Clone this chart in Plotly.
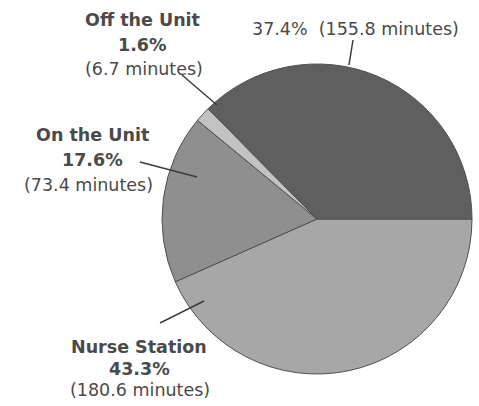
import plotly.graph_objects as go

# ---- data (listed clockwise from 3 o'clock) ----
labels = ["Nurse Station", "On the Unit", "Off the Unit", "Patient Room"]
minutes = [180.6, 73.4, 6.7, 155.8]
percents = ["43.3%", "17.6%", "1.6%", "37.4%"]
colors = ["#a7a7a7", "#8f8f8f", "#c2c2c2", "#5f5f5f"]

W, H = 479, 406


def px(x):
    return x / W


def py(y):
    return 1 - y / H


fig = go.Figure()
fig.add_trace(go.Pie(
    labels=labels,
    values=minutes,
    sort=False,
    direction="clockwise",
    rotation=90,
    textinfo="none",
    hoverinfo="label+value+percent",
    marker=dict(colors=colors, line=dict(color="#505050", width=1)),
    domain=dict(x=[px(162), px(472)], y=[py(374), py(64)]),
    showlegend=False,
))

font_family = "DejaVu Sans, Arial, sans-serif"
txt_color = "#4a4a4a"
fs = 17.5

# label text lines: (text, x, y, bold)
label_lines = [
    [(labels[0], 139, 347, True), (percents[0], 139, 369, True), (f"({minutes[0]} minutes)", 140, 390, False)],
    [(labels[1], 92, 135, True), (percents[1], 92, 160, True), (f"({minutes[1]} minutes)", 88, 185, False)],
    [(labels[2], 142, 20, True), (percents[2], 142, 45, True), (f"({minutes[2]} minutes)", 144, 69, False)],
    [(f"{percents[3]}&nbsp;&nbsp;({minutes[3]} minutes)", 355, 29, False)],
]

# leader lines (x0, y0, x1, y1) in pixels
leaders = [
    (160, 323, 204, 301),
    (140, 162, 197, 177),
    (182, 75, 217, 105),
    (353, 40, 349, 65),
]

annotations = []
for group in label_lines:
    for text, x, y, bold in group:
        annotations.append(dict(
            x=px(x), y=py(y), xref="paper", yref="paper",
            xanchor="center", yanchor="middle",
            text=f"<b>{text}</b>" if bold else text,
            showarrow=False,
            font=dict(family=font_family, size=fs, color=txt_color),
        ))

shapes = []
for x0, y0, x1, y1 in leaders:
    shapes.append(dict(
        type="line", xref="paper", yref="paper",
        x0=px(x0), y0=py(y0), x1=px(x1), y1=py(y1),
        line=dict(color="#3c3c3c", width=1.5),
    ))

fig.update_layout(
    width=W, height=H,
    margin=dict(l=0, r=0, t=0, b=0),
    paper_bgcolor="white",
    plot_bgcolor="white",
    annotations=annotations,
    shapes=shapes,
)

fig.write_html("out.html", config={"displayModeBar": False},
               post_script="document.body.style.margin='0';")
